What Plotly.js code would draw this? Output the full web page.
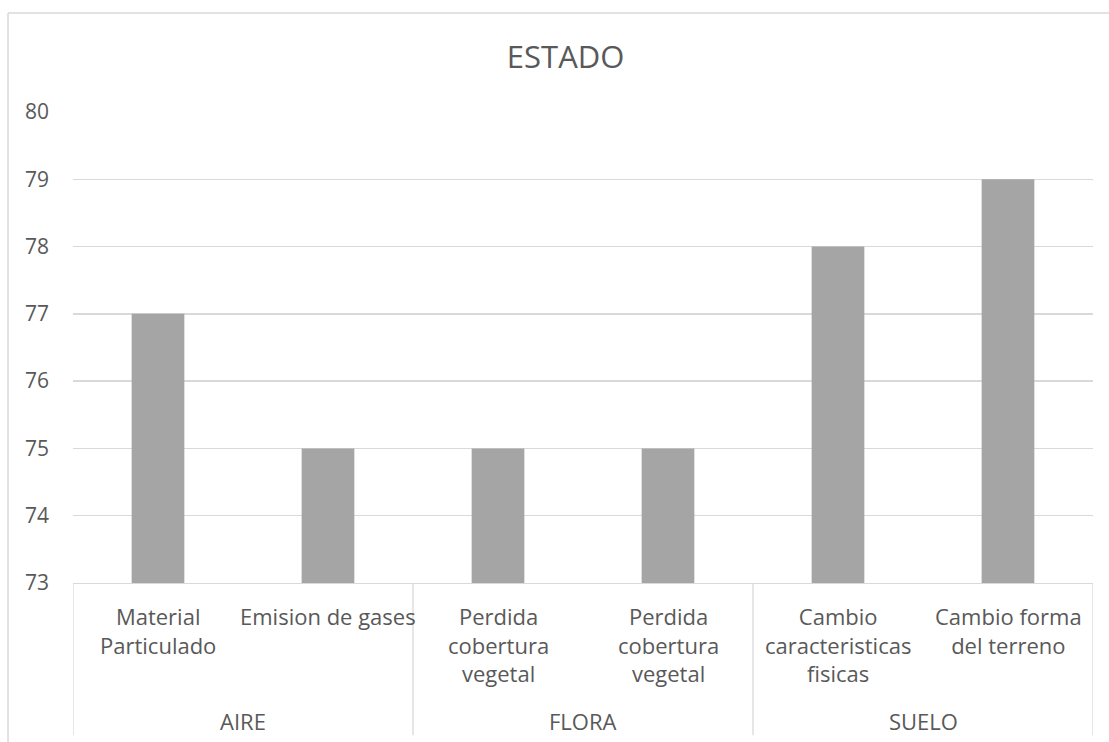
<!DOCTYPE html>
<html>
<head>
<meta charset="utf-8">
<script src="https://cdn.plot.ly/plotly-3.0.1.min.js"></script>
<style>
  html, body { margin: 0; padding: 0; background: #fff; }
  #chart { width: 1109px; height: 742px; }
</style>
</head>
<body>
<div id="chart"></div>
<script>
// ---- data ----
const chartTitle = "ESTADO";
const groups = ["AIRE", "FLORA", "SUELO"];
const groupSizes = [2, 2, 2];
const categories = [
  "Material<br>Particulado",
  "Emision de gases",
  "Perdida<br>cobertura<br>vegetal",
  "Perdida<br>cobertura<br>vegetal",
  "Cambio<br>caracteristicas<br>fisicas",
  "Cambio forma<br>del terreno"
];
const values = [77, 75, 75, 75, 78, 79];
const yTicks = [73, 74, 75, 76, 77, 78, 79, 80];

// ---- drawing ----
const textColor = "#595959";
const lineColor = "#d9d9d9";
const fontFamily = "'Open Sans', 'Noto Sans', sans-serif";
const xs = categories.map((_, i) => i);

const trace = {
  type: "bar",
  x: xs,
  y: values,
  base: 0,
  marker: { color: "#a5a5a5", line: { width: 0 } },
  width: 0.31,
  hoverinfo: "skip"
};

const annotations = [];
categories.forEach((c, i) => {
  annotations.push({
    x: i, y: -0.033, xref: "x", yref: "paper",
    xanchor: "center", yanchor: "top",
    text: c, showarrow: false, align: "center",
    font: { family: fontFamily, size: 22, color: textColor }
  });
});

const shapes = [];
let start = 0;
const bounds = [-0.5];
groups.forEach((g, gi) => {
  const end = start + groupSizes[gi];
  annotations.push({
    x: (start + end - 1) / 2, y: -0.292, xref: "x", yref: "paper",
    xanchor: "center", yanchor: "middle",
    text: g, showarrow: false,
    font: { family: fontFamily, size: 22, color: textColor }
  });
  bounds.push(end - 0.5);
  start = end;
});
bounds.forEach(b => {
  shapes.push({
    type: "line", xref: "x", yref: "paper",
    x0: b, x1: b, y0: 0, y1: -0.323,
    line: { color: lineColor, width: 1.3 }
  });
});
// outer chart border (top and left edges visible)
shapes.push({
  type: "line", xref: "paper", yref: "paper",
  x0: -0.0637, x1: 1.2, y0: 1.2102, y1: 1.2102,
  line: { color: lineColor, width: 1.5 }
});
shapes.push({
  type: "line", xref: "paper", yref: "paper",
  x0: -0.0637, x1: -0.0637, y0: 1.2102, y1: -0.5,
  line: { color: lineColor, width: 1.5 }
});

const layout = {
  width: 1109, height: 742,
  margin: { l: 73, r: 16, t: 112, b: 159, pad: 0 },
  paper_bgcolor: "#ffffff",
  plot_bgcolor: "#ffffff",
  showlegend: false,
  title: {
    text: chartTitle,
    x: 0.51, xref: "container", xanchor: "center",
    y: 0.923, yref: "container", yanchor: "middle",
    font: { family: fontFamily, size: 31, color: textColor }
  },
  xaxis: {
    range: [-0.5, categories.length - 0.5],
    showticklabels: false, ticks: "", showgrid: false, zeroline: false,
    showline: true, linecolor: lineColor, linewidth: 1.3, fixedrange: true
  },
  yaxis: {
    range: [yTicks[0], yTicks[yTicks.length - 1]],
    tickvals: yTicks, ticktext: yTicks.map(String),
    showgrid: true, gridcolor: lineColor, gridwidth: 1.3,
    zeroline: false, showline: false, ticks: "",
    ticklabelstandoff: 23,
    tickfont: { family: fontFamily, size: 21, color: textColor },
    fixedrange: true
  },
  annotations: annotations,
  shapes: shapes
};

Plotly.newPlot("chart", [trace], layout, { staticPlot: true, displayModeBar: false });
</script>
</body>
</html>
